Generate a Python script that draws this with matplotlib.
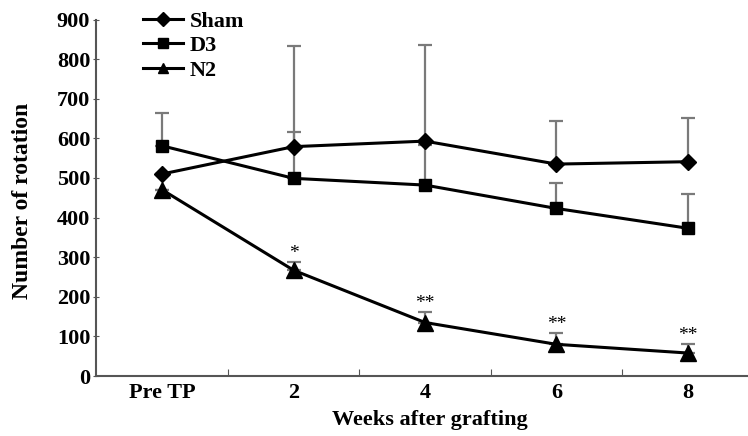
import matplotlib
matplotlib.use("Agg")
import matplotlib.pyplot as plt

plt.rcParams['font.family'] = ['Liberation Serif', 'DejaVu Serif']

categories = ['Pre TP', '2', '4', '6', '8']

sham = [510, 579, 593, 535, 541]
sham_err = [0, 253, 243, 109, 110]

d3 = [581, 499, 482, 423, 373]
d3_err = [84, 118, 100, 64, 86]

n2 = [470, 267, 135, 80, 58]
n2_err = [0, 22, 27, 28, 22]
n2_stars = ['', '*', '**', '**', '**']

x = list(range(len(categories)))

fig = plt.figure(figsize=(7.48, 4.36), dpi=100)
ax = fig.add_axes([96.5 / 748, 1 - 376 / 436, 657 / 748, (376 - 19.5) / 436])

err_kw = dict(fmt='none', ecolor='#7a7a7a', elinewidth=1.6, capsize=5, capthick=1.6)
ax.errorbar(x, d3, yerr=[[0] * 5, d3_err], zorder=1, **err_kw)
ax.errorbar(x, sham, yerr=[[0] * 5, sham_err], zorder=1, **err_kw)
ax.errorbar(x, n2, yerr=[[0] * 5, n2_err], zorder=1, **err_kw)

ax.plot(x, sham, color='black', lw=2.2, marker='D', ms=8, label='Sham', zorder=3)
ax.plot(x, d3, color='black', lw=2.2, marker='s', ms=8, label='D3', zorder=3)
ax.plot(x, n2, color='black', lw=2.2, marker='^', ms=11, label='N2', zorder=3)

for xi, yi, ei, s in zip(x, n2, n2_err, n2_stars):
    if s:
        ax.text(xi, yi + ei, s, ha='center', va='bottom', fontsize=14)

ax.set_xlim(-0.5, 4.5)
ax.set_ylim(0, 900)
ax.set_yticks(range(0, 901, 100))
ax.set_xticks([0.5, 1.5, 2.5, 3.5])
ax.set_xticklabels([])
ax.set_xticks(x, minor=True)
ax.set_xticklabels(categories, minor=True, fontweight='bold', fontsize=16)
ax.tick_params(axis='x', which='major', direction='in', length=5, color='#555555')
ax.tick_params(axis='x', which='minor', length=0, pad=5)
ax.tick_params(axis='y', direction='inout', length=5, color='#555555', labelsize=16, pad=2)
for lab in ax.get_yticklabels():
    lab.set_fontweight('bold')

for side in ['top', 'right']:
    ax.spines[side].set_visible(False)
for side in ['left', 'bottom']:
    ax.spines[side].set_color('#555555')
    ax.spines[side].set_linewidth(1.5)

ax.set_xlabel('Weeks after grafting', fontweight='bold', fontsize=16, va='center')
ax.xaxis.set_label_coords(0.508, -0.123)
ax.set_ylabel('Number of rotation', fontweight='bold', fontsize=17, va='center')
ax.yaxis.set_label_coords(-0.113, 0.49)

leg = ax.legend(loc='upper left', bbox_to_anchor=(143 / 748, 1 - 11 / 436),
                bbox_transform=fig.transFigure, frameon=False,
                prop={'weight': 'bold', 'size': 16}, handlelength=1.8,
                labelspacing=0.18, handletextpad=0.3, borderpad=0, borderaxespad=0)
for h in leg.legend_handles:
    h.set_markersize(7)

fig.savefig('out.png', dpi=100)
